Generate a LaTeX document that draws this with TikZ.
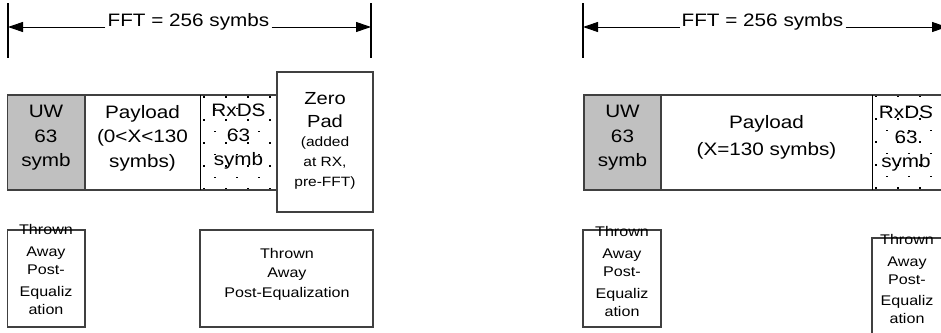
\documentclass[tikz,border=0pt]{standalone}
\usepackage{fontspec}
\setmainfont{Liberation Sans}[FakeStretch=1.15]
\usetikzlibrary{arrows.meta}
\definecolor{edgegray}{HTML}{404040}
\definecolor{uwfill}{HTML}{C0C0C0}
\tikzset{
  edge/.style={draw=edgegray, line width=1.8pt},
  thinline/.style={draw=black, line width=0.9pt},
  tickline/.style={draw=black, line width=1.3pt},
  dimline/.style={draw=black, line width=1pt, -{Triangle[length=15pt,width=10pt]}},
  cell/.style={rectangle, inner sep=0pt, outer sep=0pt, anchor=north west},
  bigtxt/.style={align=center, inner sep=0pt, font=\fontsize{18}{24.5}\selectfont},
  smalltxt/.style={align=center, inner sep=0pt, font=\fontsize{14}{18.5}\selectfont},
  dimtxt/.style={inner xsep=2pt, inner ysep=0pt, font=\fontsize{18}{21}\selectfont},
}
% dotted fill of an RxDS cell: staggered grid of small square dots
\newcommand{\rxdots}[3]{%
  \begin{scope}
    \clip (#1.north west) rectangle (#1.south east);
    \foreach \r in {0,...,8}{
      \foreach \c in {-1,...,4}{
        \pgfmathsetmacro\dotx{#2+22*\c+11*mod(\r,2)}
        \pgfmathsetmacro\doty{#3+11.5*\r}
        \fill[black] (\dotx,\doty) rectangle ++(1.6,1.6);
      }
    }
  \end{scope}}
\begin{document}
\begin{tikzpicture}[x=1pt,y=-1pt]
\useasboundingbox (0,0) rectangle (941,332);
\clip (0,0) rectangle (941,332);

% ---------------- left frame: short payload plus zero padding ----------------
\coordinate (tL1a) at (8,3);   \coordinate (tL1b) at (8,58);
\coordinate (tL2a) at (371,3); \coordinate (tL2b) at (371,58);
\draw[tickline] (tL1a) -- (tL1b);
\draw[tickline] (tL2a) -- (tL2b);
\node[dimtxt, anchor=base] (fftL) at (188.5,27) {FFT = 256 symbs};
\draw[dimline] (fftL.base west) -- (tL1a |- fftL.base);
\draw[dimline] (fftL.base east) -- (tL2a |- fftL.base);

\node[cell, fill=uwfill, minimum width=77.5pt, minimum height=95pt] (uwL) at (7.5,95) {};
\node[cell, minimum width=115pt, minimum height=95pt] (plL) at (85,95) {};
\node[cell, minimum width=77pt, minimum height=95pt] (rxL) at (200,95) {};
\node[cell, minimum width=96pt, minimum height=140pt] (zpL) at (277,72) {};
\rxdots{rxL}{203}{96}
\draw[edge] (rxL.north east) -- (uwL.north west) -- (uwL.south west) -- (rxL.south east);
\draw[edge] (uwL.north east) -- (uwL.south east);
\draw[thinline] (plL.north east) -- (plL.south east);
\draw[edge] (zpL.north west) rectangle (zpL.south east);

\node[bigtxt] (uwLt) at (46,138) {UW\\63\\symb};
\node[bigtxt] (plLt) at (142.5,138) {Payload\\(0<X<130\\symbs)};
\node[bigtxt] (rxLt) at (238.5,137) {RxDS\\63\\symb};
\node[bigtxt, font=\fontsize{17.5}{23.5}\selectfont] (zpLt1) at (325,110) {Zero\\Pad};
\node[smalltxt, font=\fontsize{13.5}{20}\selectfont] (zpLt2) at (325,163.5) {(added\\at RX,\\pre-FFT)};

\node[cell, edge, minimum width=77.5pt, minimum height=97pt] (thL1) at (7.5,230) {};
\node[cell, edge, minimum width=173pt, minimum height=97pt] (thL2) at (200,230) {};
\node[smalltxt] (thL1t) at (46,269.5) {Thrown\\[3pt]Away\\Post-\\[3pt]Equaliz\\ation};
\node[smalltxt] (thL2t) at (287,274.5) {Thrown\\Away\\[2pt]Post-Equalization};

% ---------------- right frame: full payload, no padding ----------------
\coordinate (tR1a) at (583,3); \coordinate (tR1b) at (583,58);
\coordinate (tR2a) at (947,3); \coordinate (tR2b) at (947,58);
\draw[tickline] (tR1a) -- (tR1b);
\draw[tickline] (tR2a) -- (tR2b);
\node[dimtxt, anchor=base] (fftR) at (762.5,27) {FFT = 256 symbs};
\draw[dimline] (fftR.base west) -- (tR1a |- fftR.base);
\draw[dimline] (fftR.base east) -- (tR2a |- fftR.base);

\node[cell, fill=uwfill, minimum width=77pt, minimum height=95pt] (uwR) at (584,95) {};
\node[cell, minimum width=211pt, minimum height=95pt] (plR) at (661,95) {};
\node[cell, minimum width=77pt, minimum height=95pt] (rxR) at (872,95) {};
\rxdots{rxR}{875}{95}
\draw[edge] (rxR.north east) -- (uwR.north west) -- (uwR.south west) -- (rxR.south east) -- (rxR.north east);
\draw[edge] (uwR.north east) -- (uwR.south east);
\draw[thinline] (plR.north east) -- (plR.south east);

\node[bigtxt] (uwRt) at (622.5,138) {UW\\63\\symb};
\node[bigtxt, font=\fontsize{18}{27}\selectfont] (plRt) at (766.5,137) {Payload\\(X=130 symbs)};
\node[bigtxt] (rxRt) at (906,139) {RxDS\\63\\symb};

\node[cell, edge, minimum width=78pt, minimum height=97pt] (thR1) at (583,230) {};
\node[cell, edge, minimum width=77pt, minimum height=110pt] (thR2) at (872,238) {};
\node[smalltxt] (thR1t) at (622,271.5) {Thrown\\[3pt]Away\\Post-\\[3pt]Equaliz\\ation};
\node[smalltxt] (thR2t) at (907,279) {Thrown\\[3pt]Away\\Post-\\[2pt]Equaliz\\ation};
\end{tikzpicture}
\end{document}
